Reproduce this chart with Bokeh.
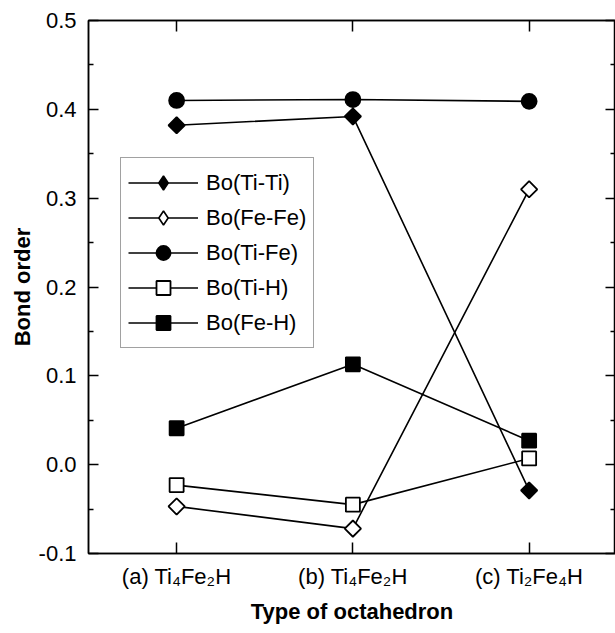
import math
from bokeh.plotting import figure
from bokeh.models import (FixedTicker, LinearAxis, Legend, LegendItem,
                          PrintfTickFormatter, Range1d)
from bokeh.embed import file_html
from bokeh.resources import INLINE

# ---- data ----
categories = ["(a) Ti\u2084Fe\u2082H", "(b) Ti\u2084Fe\u2082H", "(c) Ti\u2082Fe\u2084H"]
x_pos = [1, 2, 3]
bo_ti_ti = [0.382, 0.392, -0.029]
bo_fe_fe = [-0.047, -0.072, 0.310]
bo_ti_fe = [0.410, 0.411, 0.409]
bo_ti_h = [-0.023, -0.045, 0.007]
bo_fe_h = [0.041, 0.113, 0.027]
y_ticks = [-0.1, 0.0, 0.1, 0.2, 0.3, 0.4, 0.5]
y_minor = [-0.05, 0.05, 0.15, 0.25, 0.35, 0.45]

FONT = "Liberation Sans"

p = figure(width=615, height=633, output_backend="svg", toolbar_location=None,
           x_range=Range1d(0.5, 3.49), y_range=Range1d(-0.1, 0.5),
           min_border_left=88, min_border_right=0, min_border_top=20,
           min_border_bottom=80)
p.xgrid.visible = False
p.ygrid.visible = False
p.outline_line_color = "black"
p.outline_line_width = 1.5

# bottom axis
xa = p.xaxis[0]
xa.ticker = FixedTicker(ticks=x_pos)
xa.major_label_overrides = {x: c for x, c in zip(x_pos, categories)}
xa.major_tick_in = 11
xa.major_tick_out = 0
xa.minor_tick_line_color = None
xa.axis_line_width = 1.5
xa.major_tick_line_width = 1.5
xa.major_label_text_font = FONT
xa.major_label_text_font_size = "22px"
xa.major_label_text_color = "black"
xa.major_label_standoff = 10
xa.axis_label = "Type of octahedron"
xa.axis_label_text_font = FONT
xa.axis_label_text_font_size = "22px"
xa.axis_label_text_font_style = "bold"
xa.axis_label_text_color = "black"
xa.axis_label_standoff = 7

# left axis
ya = p.yaxis[0]
ya.ticker = FixedTicker(ticks=y_ticks, minor_ticks=y_minor)
ya.formatter = PrintfTickFormatter(format="%.1f")
ya.major_tick_in = 10
ya.major_tick_out = 0
ya.minor_tick_in = 5
ya.minor_tick_out = 0
ya.axis_line_width = 1.5
ya.major_tick_line_width = 1.5
ya.minor_tick_line_width = 1.5
ya.major_label_text_font = FONT
ya.major_label_text_font_size = "22px"
ya.major_label_text_color = "black"
ya.major_label_standoff = 12
ya.axis_label = "Bond order"
ya.axis_label_text_font = FONT
ya.axis_label_text_font_size = "22px"
ya.axis_label_text_font_style = "bold"
ya.axis_label_text_color = "black"
ya.axis_label_standoff = 1

# right axis (ticks only)
ra = LinearAxis(ticker=FixedTicker(ticks=y_ticks, minor_ticks=y_minor),
                major_tick_in=10, major_tick_out=0, minor_tick_in=5, minor_tick_out=0,
                major_label_text_font_size="0px", major_label_text_color=None,
                major_label_standoff=0, axis_line_width=1.5,
                major_tick_line_width=1.5, minor_tick_line_width=1.5)
p.add_layout(ra, "right")

# top axis (ticks only)
ta = LinearAxis(ticker=FixedTicker(ticks=x_pos),
                major_tick_in=11, major_tick_out=0, minor_tick_line_color=None,
                major_label_text_font_size="0px", major_label_text_color=None,
                major_label_standoff=0, axis_line_width=1.5,
                major_tick_line_width=1.5)
p.add_layout(ta, "above")

LW = 1.6
D = math.pi / 4
# name, values, marker, size, fill, angle
series = [
    ("Bo(Ti-Ti)", bo_ti_ti, "square", 11.5, "black", D),
    ("Bo(Fe-Fe)", bo_fe_fe, "square", 11.5, "white", D),
    ("Bo(Ti-Fe)", bo_ti_fe, "circle", 15, "black", 0),
    ("Bo(Ti-H)", bo_ti_h, "square", 14, "white", 0),
    ("Bo(Fe-H)", bo_fe_h, "square", 14, "black", 0),
]
lines = []
for s in series:
    lines.append(p.line(x_pos, s[1], line_color="black", line_width=LW))
items = []
for (name, ys, marker, size, fill, ang), ln in zip(series, lines):
    if ang:
        # diamond glyph used for the legend; drawn small, fully hidden under
        # the rotated-square markers drawn on top of it
        leg = p.scatter(x_pos, ys, marker="diamond", size=10,
                        fill_color=fill, line_color="black", line_width=1.6)
        p.scatter(x_pos, ys, marker=marker, size=size, angle=ang,
                  fill_color=fill, line_color="black", line_width=1.8)
    else:
        leg = p.scatter(x_pos, ys, marker=marker, size=size,
                        fill_color=fill, line_color="black", line_width=1.8)
    items.append(LegendItem(label=name, renderers=[ln, leg]))

legend = Legend(items=items, location=(32, 205),
                glyph_width=70, glyph_height=35, spacing=0, padding=7,
                label_standoff=8, label_text_font=FONT, label_text_font_size="22px",
                label_text_color="black",
                border_line_color="#444444", border_line_width=1,
                background_fill_color="white", background_fill_alpha=1.0)
p.add_layout(legend)

open("out.html", "w").write(file_html(p, INLINE))
